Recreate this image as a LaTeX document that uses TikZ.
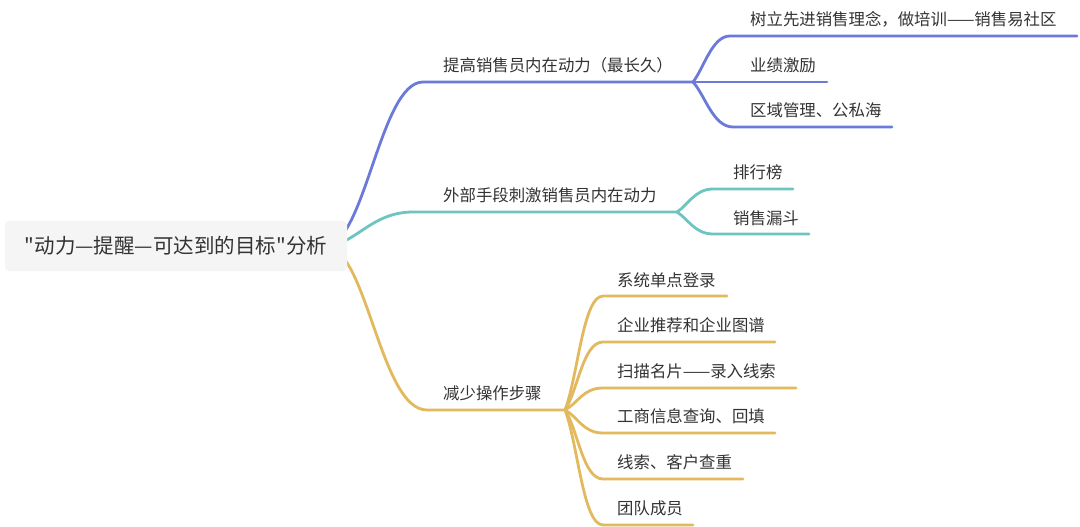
\documentclass[tikz,border=0pt]{standalone}
\usepackage{fontspec}
\setmainfont{Noto Sans CJK SC}
\newfontfamily\plainfont{Noto Sans CJK SC}
\usetikzlibrary{backgrounds}
\definecolor{bluebr}{HTML}{6B7AD8}
\definecolor{tealbr}{HTML}{6CC5BF}
\definecolor{goldbr}{HTML}{E2B95C}
\definecolor{rootbg}{HTML}{F5F5F5}
\definecolor{txt}{HTML}{333333}
\tikzset{
  lbl/.style={anchor=west,inner sep=0pt,text=txt,font=\fontsize{16.4pt}{18pt}\selectfont},
  rootbox/.style={fill=rootbg,rounded corners=4pt,minimum width=342pt,minimum height=50pt,inner sep=0pt,text=txt,font=\plainfont\fontsize{20.5pt}{24pt}\selectfont},
  br/.style={line width=2.8pt,line cap=round},
  bl/.style={br,draw=bluebr},
  tl/.style={br,draw=tealbr},
  gl/.style={br,draw=goldbr},
}
\begin{document}
\begin{tikzpicture}[x=1pt,y=-1pt]
\useasboundingbox (0,0) rectangle (1080,527);
% coordinates
\coordinate (rout) at (325,246);
\coordinate (b1s) at (423,82);  \coordinate (b1f) at (693,82);
\coordinate (b2s) at (413,212); \coordinate (b2f) at (677,212);
\coordinate (b3s) at (427,410); \coordinate (b3f) at (565,410);
\coordinate (c11s) at (730,36);  \coordinate (c11e) at (1077,36);
\coordinate (c12e) at (827,82);
\coordinate (c13s) at (733,127); \coordinate (c13e) at (892,127);
\coordinate (c21s) at (713,189); \coordinate (c21e) at (793,189);
\coordinate (c22s) at (713,234); \coordinate (c22e) at (809,234);
\coordinate (c31s) at (603,296); \coordinate (c31e) at (727,296);
\coordinate (c32s) at (603,342); \coordinate (c32e) at (775,342);
\coordinate (c33s) at (603,388); \coordinate (c33e) at (796,388);
\coordinate (c34s) at (603,433); \coordinate (c34e) at (775,433);
\coordinate (c35s) at (603,479); \coordinate (c35e) at (743,479);
\coordinate (c36s) at (603,525); \coordinate (c36e) at (693,525);

\begin{scope}[on background layer]
\fill[white] (0,0) rectangle (1080,527);
% main branches
\draw[bl] (rout) .. controls +(40,0) and +(-43,0) .. (b1s) -- (b1f);
\draw[tl] (rout) .. controls +(30,0) and +(-43,0) .. (b2s) -- (b2f);
\draw[gl] (rout) .. controls +(42,0) and +(-47,0) .. (b3s) -- (b3f);
% blue children
\draw[bl] (b1f) .. controls +(11,-14) and +(-18,0) .. (c11s) -- (c11e);
\draw[bl] (b1f) -- (c12e);
\draw[bl] (b1f) .. controls +(12,13) and +(-20,0) .. (c13s) -- (c13e);
% teal children
\draw[tl] (b2f) .. controls +(11,-7) and +(-18,0) .. (c21s) -- (c21e);
\draw[tl] (b2f) .. controls +(11,7) and +(-18,0) .. (c22s) -- (c22e);
% gold children
\draw[gl] (b3f) .. controls +(13,-34) and +(-20,0) .. (c31s) -- (c31e);
\draw[gl] (b3f) .. controls +(13,-20) and +(-20,0) .. (c32s) -- (c32e);
\draw[gl] (b3f) .. controls +(13,-7) and +(-20,0) .. (c33s) -- (c33e);
\draw[gl] (b3f) .. controls +(13,7) and +(-20,0) .. (c34s) -- (c34e);
\draw[gl] (b3f) .. controls +(13,20) and +(-20,0) .. (c35s) -- (c35e);
\draw[gl] (b3f) .. controls +(13,34) and +(-20,0) .. (c36s) -- (c36e);
\end{scope}

\node[rootbox] (root) at (176,246) {"动力—提醒—可达到的目标"分析};

\node[lbl] (t1) at (443,65) {提高销售员内在动力（最长久）};
\node[lbl] (t11) at (750,19) {树立先进销售理念，做培训——销售易社区};
\node[lbl] (t12) at (750,65) {业绩激励};
\node[lbl] (t13) at (750,110) {区域管理、公私海};

\node[lbl] (t2) at (443,195) {外部手段刺激销售员内在动力};
\node[lbl] (t21) at (733,172) {排行榜};
\node[lbl] (t22) at (733,218) {销售漏斗};

\node[lbl] (t3) at (443,393) {减少操作步骤};
\node[lbl] (t31) at (617,280) {系统单点登录};
\node[lbl] (t32) at (617,325) {企业推荐和企业图谱};
\node[lbl] (t33) at (617,371) {扫描名片——录入线索};
\node[lbl] (t34) at (617,416) {工商信息查询、回填};
\node[lbl] (t35) at (617,462) {线索、客户查重};
\node[lbl] (t36) at (617,508) {团队成员};
\end{tikzpicture}
\end{document}
